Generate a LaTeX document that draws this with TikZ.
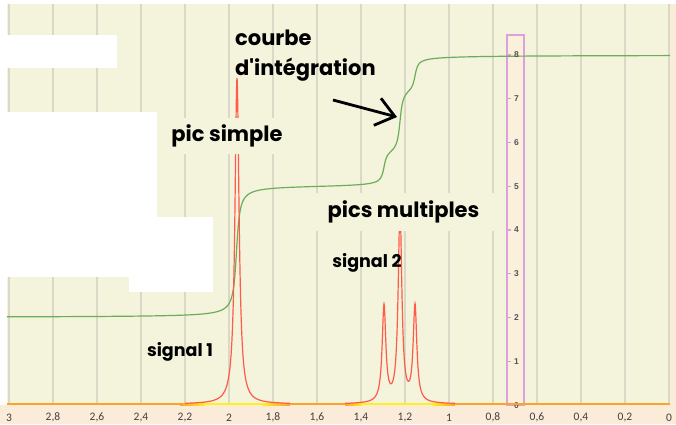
\documentclass[tikz,border=0pt]{standalone}
\usepackage{fontspec}
\setmainfont{Liberation Sans}
\newfontfamily\lblfont{Poppins}
\newfontfamily\axfont{Carlito}
\usetikzlibrary{arrows.meta}

\definecolor{plotbg}{HTML}{F4F3DC}
\definecolor{bandbg}{HTML}{FBEBD9}
\definecolor{gridc}{HTML}{DAD9C8}
\definecolor{peakred}{HTML}{FF5A4A}
\definecolor{intgreen}{HTML}{6AAE5A}
\definecolor{scalepink}{HTML}{DDA0DD}
\definecolor{scalebg}{HTML}{FAF0DC}
\definecolor{tickgray}{HTML}{555555}
\definecolor{axisgray}{HTML}{404040}
\definecolor{baseorange}{HTML}{F8A628}
\definecolor{baseyellow}{HTML}{FFF020}

\tikzset{
  gridline/.style={gridc, line width=1.4pt},
  axlabel/.style={font=\axfont\fontsize{11.5}{11.5}\selectfont, text=axisgray, inner sep=0},
  scaledigit/.style={font=\bfseries\fontsize{8.5}{8.5}\selectfont, text=tickgray, inner sep=0},
  lbl/.style={font=\lblfont\bfseries\fontsize{21}{21}\selectfont, inner sep=0},
  lblsmall/.style={font=\lblfont\bfseries\fontsize{17.5}{17.5}\selectfont, inner sep=0},
  peak/.style={peakred, line width=1.2pt},
  integral/.style={intgreen, line width=1.2pt},
  pointer/.style={line width=2.8pt, -{Straight Barb[length=18pt,width=28pt]}},
  declare function={
    L(\x,\c,\g)=1/(1+(min(abs(\x-\c)/\g,100))^2);
    A(\x,\c,\g)=0.5+atan((\x-\c)/\g)/180;
    G(\x)=405-43.75*(2+3*A(\x,236.5,2.5)+0.75*A(\x,384,2.2)+1.5*A(\x,400,2.2)+0.75*A(\x,415,2.2));
  }
}

\begin{document}
\begin{tikzpicture}[x=1pt,y=-1pt]
\useasboundingbox (0,0) rectangle (676,424);
\fill[white] (0,0) rectangle (676,424);

% plot area and label band
\fill[plotbg] (7,4) rectangle (670,405);
\fill[bandbg] (0,405) rectangle (676,424);
\fill[bandbg] (670,4) rectangle (676,405);

% vertical grid and ppm labels
\foreach \k in {0,...,15}
  \draw[gridline] ({9+44*\k},4) -- ({9+44*\k},404);
\foreach \lab [count=\k from 0] in {3,{2,8},{2,6},{2,4},{2,2},2,{1,8},{1,6},{1,4},{1,2},1,{0,8},{0,6},{0,4},{0,2},0}
  \node[axlabel] (ax\k) at ({9+44*\k},417.5) {\lab};

% integration scale
\node[draw=scalepink, fill=scalebg, line width=1.5pt, minimum width=17pt, minimum height=370pt, inner sep=0] (scalebox) at (515.5,220) {};
\foreach \k in {1,...,8}
  \draw[scalepink, line width=1.2pt] (507,{405-43.75*\k}) -- (510.5,{405-43.75*\k});

% integration curve
\draw[integral]
  plot[domain=7:200, samples=40] (\x,{G(\x)})
  -- plot[domain=200:280, samples=321] (\x,{G(\x)})
  -- plot[domain=280:360, samples=41] (\x,{G(\x)})
  -- plot[domain=360:450, samples=361] (\x,{G(\x)})
  -- plot[domain=450:670, samples=45] (\x,{G(\x)});

\foreach \k in {1,...,8}
  \node[scaledigit] (sd\k) at (516.5,{405-43.75*\k}) {\k};
\node[scaledigit] (sd0) at (516.5,406) {0};

% baseline
\draw[baseorange, line width=2pt] (7,404) -- (670,404);
\shade[left color=baseorange, right color=baseyellow] (180,403) rectangle (205,405);
\fill[baseyellow] (205,403) rectangle (262,405);
\shade[left color=baseyellow, right color=baseorange] (262,403) rectangle (290,405);
\shade[left color=baseorange, right color=baseyellow] (345,403) rectangle (362,405);
\fill[baseyellow] (362,403) rectangle (432,405);
\shade[left color=baseyellow, right color=baseorange] (432,403) rectangle (455,405);

% spectrum: singlet and triplet
\draw[peak] plot[domain=185:290, samples=421] (\x,{404-326*L(\x,237,2.5)});
\draw[peak] plot[domain=345:455, samples=441]
  (\x,{404-96*L(\x,384,2.2)-192*L(\x,400,2.2)-96*L(\x,415,2.2)});

% labels
\node[lbl, anchor=base west] (courbe) at (235,45) {courbe};
\node[lbl, anchor=base west] (integ) at (235,75) {d\textquotesingle intégration};
\node[lbl, fill=plotbg, minimum width=130pt, minimum height=36pt] (picsimple) at (227,136) {pic simple};
\node[lbl, fill=plotbg, minimum width=187pt, minimum height=38pt] (picsmult) at (403.5,212) {pics multiples};
\node[lblsmall] (sig2) at (367,263) {signal 2};
\node[lblsmall] (sig1) at (180,352) {signal 1};

% pointer to the integration curve
\coordinate (arrowTail) at (333,100);
\coordinate (arrowTip) at (397,117);
\draw[pointer] (arrowTail) -- (arrowTip);

% masked regions
\fill[white] (0,35) rectangle (117,68);
\fill[white] (0,112) rectangle (157,217);
\fill[white] (0,217) rectangle (213,277);
\fill[white] (129,277) rectangle (213,292);
\end{tikzpicture}
\end{document}
